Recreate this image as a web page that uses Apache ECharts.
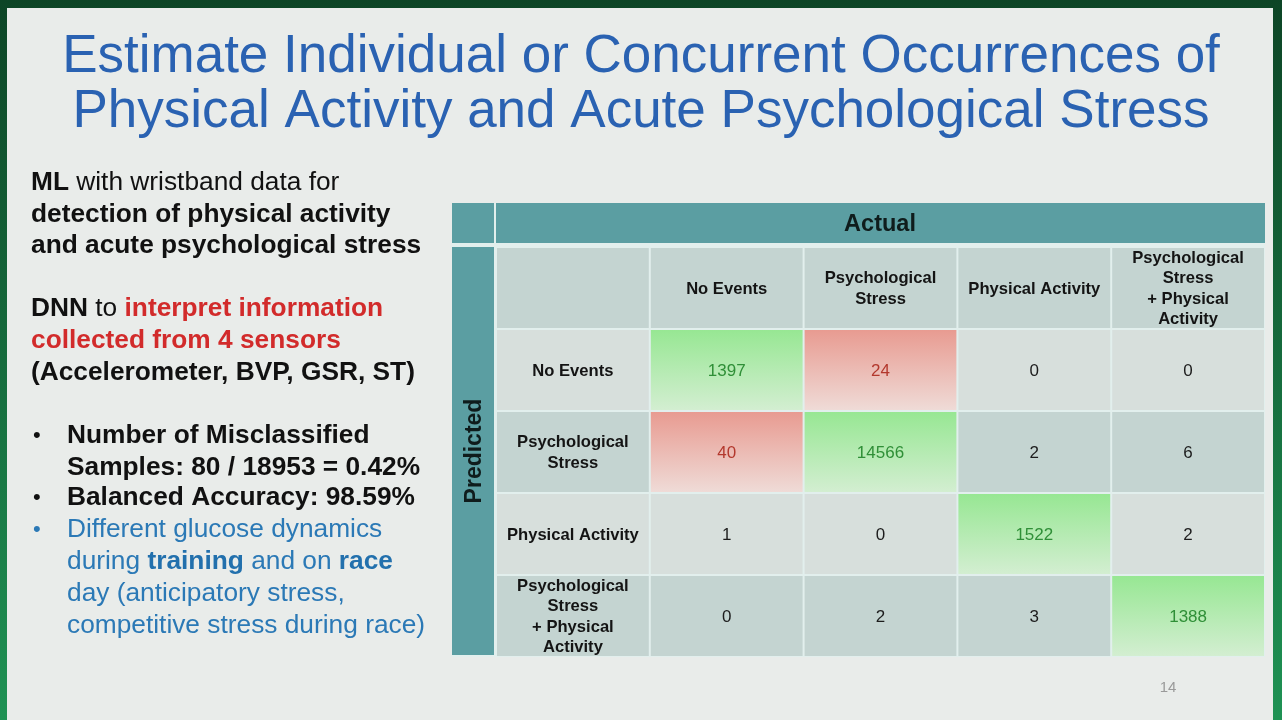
<!DOCTYPE html>
<html>
<head>
<meta charset="utf-8">
<title>Confusion matrix</title>
<script src="https://cdn.jsdelivr.net/npm/echarts@6/dist/echarts.min.js"></script>
<style>
  html, body { margin: 0; padding: 0; }
  #main { width: 1282px; height: 720px; }
</style>
</head>
<body>
<div id="main"></div>
<script>
// class names, actual along columns, predicted along rows
var actualLabels = ['No Events', 'Psychological\nStress', 'Physical Activity', 'Psychological\nStress\n+ Physical\nActivity'];
var predictedLabels = ['No Events', 'Psychological\nStress', 'Physical Activity', 'Psychological\nStress\n+ Physical\nActivity'];
// counts[predicted][actual]
var counts = [
    [1397, 24, 0, 0],
    [40, 14566, 2, 6],
    [1, 0, 1522, 2],
    [0, 2, 3, 1388]
];

var FONT = '"Liberation Sans", Arial, sans-serif';
var TEAL = '#5b9ea2';

// build the 5x5 grid: header row + label column + counts
var cells = [];
for (var r = 0; r <= predictedLabels.length; r++) {
    for (var c = 0; c <= actualLabels.length; c++) {
        var cell = { col: c, row: r, text: '', kind: 'band' };
        if (r === 0 && c > 0) {
            cell.text = actualLabels[c - 1];
            cell.kind = 'head';
        } else if (c === 0 && r > 0) {
            cell.text = predictedLabels[r - 1];
            cell.kind = 'head';
        } else if (r > 0 && c > 0) {
            var v = counts[r - 1][c - 1];
            cell.text = String(v);
            cell.kind = r === c ? 'hit' : (v >= 10 ? 'miss' : 'value');
        }
        cells.push(cell);
    }
}

function cellFill(cell) {
    if (cell.kind === 'hit') {
        return new echarts.graphic.LinearGradient(0, 0, 0, 1, [
            { offset: 0, color: '#97e793' },
            { offset: 1, color: '#d3eed1' }
        ]);
    }
    if (cell.kind === 'miss') {
        return new echarts.graphic.LinearGradient(0, 0, 0, 1, [
            { offset: 0, color: '#e89b91' },
            { offset: 1, color: '#efdbd7' }
        ]);
    }
    // banded rows: header dark, then light/dark alternating
    return cell.row % 2 === 0 ? '#c4d4d1' : '#d7dfdc';
}

function cellText(cell) {
    if (cell.kind === 'head') return { color: '#141414', weight: 'bold', size: 16.6 };
    if (cell.kind === 'hit') return { color: '#2f8f37', weight: 'normal', size: 17 };
    if (cell.kind === 'miss') return { color: '#b3382d', weight: 'normal', size: 17 };
    return { color: '#1c1c1c', weight: 'normal', size: 17 };
}

function renderCell(params, api) {
    var cell = cells[params.dataIndex];
    var p = api.coord([api.value(0), api.value(1)]);
    var size = api.size([1, 1]);
    var w = size[0], h = size[1];
    var t = cellText(cell);
    return {
        type: 'group',
        children: [
            {
                type: 'rect',
                shape: { x: p[0] - w / 2 + 1, y: p[1] - h / 2 + 1, width: w - 2, height: h - 2 },
                style: { fill: cellFill(cell) }
            },
            {
                type: 'text',
                x: p[0],
                y: p[1] + 1,
                style: {
                    text: cell.text,
                    fill: t.color,
                    fontSize: t.size,
                    fontWeight: t.weight,
                    fontFamily: FONT,
                    align: 'center',
                    verticalAlign: 'middle',
                    lineHeight: 20.5
                }
            }
        ]
    };
}

function line(x, y, text, rich) {
    return {
        type: 'text', x: x, y: y + 1, z: 10,
        style: { text: text, rich: rich, verticalAlign: 'middle', align: 'left' }
    };
}

var rich = {
    k: { fill: '#111111', fontSize: 26.3, fontWeight: 'bold', fontFamily: FONT },
    n: { fill: '#111111', fontSize: 26.3, fontWeight: 'normal', fontFamily: FONT },
    d: { fill: '#111111', fontSize: 22, fontWeight: 'normal', fontFamily: FONT },
    bd: { fill: '#2b79b6', fontSize: 22, fontWeight: 'normal', fontFamily: FONT },
    r: { fill: '#d22b2b', fontSize: 26.3, fontWeight: 'bold', fontFamily: FONT },
    b: { fill: '#2b79b6', fontSize: 26.3, fontWeight: 'normal', fontFamily: FONT },
    bb: { fill: '#2270ad', fontSize: 26.3, fontWeight: 'bold', fontFamily: FONT }
};

var myChart = echarts.init(document.getElementById('main'));

var option = {
    backgroundColor: new echarts.graphic.LinearGradient(0, 0, 0, 1, [
        { offset: 0, color: '#0d4526' },
        { offset: 1, color: '#1f9254' }
    ]),
    animation: false,
    grid: { left: 496, top: 247, width: 769, height: 410 },
    xAxis: {
        type: 'category',
        data: [''].concat(actualLabels),
        show: false
    },
    yAxis: {
        type: 'category',
        inverse: true,
        data: [''].concat(predictedLabels),
        show: false
    },
    graphic: [
        { type: 'rect', z: -10, shape: { x: 7, y: 8, width: 1266, height: 720 }, style: { fill: '#e9ecea' } },
        { type: 'rect', z: -5, shape: { x: 452, y: 203, width: 813, height: 454 }, style: { fill: '#e2efed' } },
        { type: 'rect', z: 1, shape: { x: 452, y: 203, width: 42, height: 40 }, style: { fill: TEAL } },
        { type: 'rect', z: 1, shape: { x: 496, y: 203, width: 769, height: 40 }, style: { fill: TEAL } },
        { type: 'rect', z: 1, shape: { x: 452, y: 247, width: 42, height: 408 }, style: { fill: TEAL } },
        {
            type: 'text', x: 880, y: 225, z: 5,
            style: { text: 'Actual', fill: '#0f1c1c', fontSize: 23.5, fontWeight: 'bold', fontFamily: FONT, align: 'center', verticalAlign: 'middle' }
        },
        {
            type: 'text', x: 475, y: 451, z: 5, rotation: Math.PI / 2,
            style: { text: 'Predicted', fill: '#0f1c1c', fontSize: 23, fontWeight: 'bold', fontFamily: FONT, align: 'center', verticalAlign: 'middle' }
        },
        // slide title
        {
            type: 'text', x: 641, y: 57, z: 5,
            style: { text: 'Estimate Individual or Concurrent Occurrences of', fill: '#2a62b2', fontSize: 53, fontFamily: FONT, align: 'center', verticalAlign: 'middle' }
        },
        {
            type: 'text', x: 641, y: 112, z: 5,
            style: { text: 'Physical Activity and Acute Psychological Stress', fill: '#2a62b2', fontSize: 53, fontFamily: FONT, align: 'center', verticalAlign: 'middle' }
        },
        // left column text
        line(31, 182, '{k|ML}{n| with wristband data for}', rich),
        line(31, 213.5, '{k|detection of physical activity}', rich),
        line(31, 245, '{k|and acute psychological stress}', rich),
        line(31, 308, '{k|DNN }{n|to }{r|interpret information}', rich),
        line(31, 340, '{r|collected from 4 sensors}', rich),
        line(31, 371.5, '{k|(Accelerometer, BVP, GSR, ST)}', rich),
        line(33, 435, '{d|•}', rich),
        line(67, 435, '{k|Number of Misclassified}', rich),
        line(67, 466.5, '{k|Samples: 80 / 18953 = 0.42%}', rich),
        line(33, 497, '{d|•}', rich),
        line(67, 497, '{k|Balanced Accuracy: 98.59%}', rich),
        line(33, 529, '{bd|•}', rich),
        line(67, 529, '{b|Different glucose dynamics}', rich),
        line(67, 561, '{b|during }{bb|training}{b| and on }{bb|race}', rich),
        line(67, 593, '{b|day (anticipatory stress,}', rich),
        line(67, 624.5, '{b|competitive stress during race)}', rich),
        {
            type: 'text', x: 1168, y: 688, z: 5,
            style: { text: '14', fill: '#9a9a9a', fontSize: 15, fontFamily: FONT, align: 'center', verticalAlign: 'middle' }
        }
    ],
    series: [
        {
            type: 'custom',
            renderItem: renderCell,
            data: cells.map(function (d) { return [d.col, d.row]; }),
            silent: true
        }
    ]
};

myChart.setOption(option);
</script>
</body>
</html>
